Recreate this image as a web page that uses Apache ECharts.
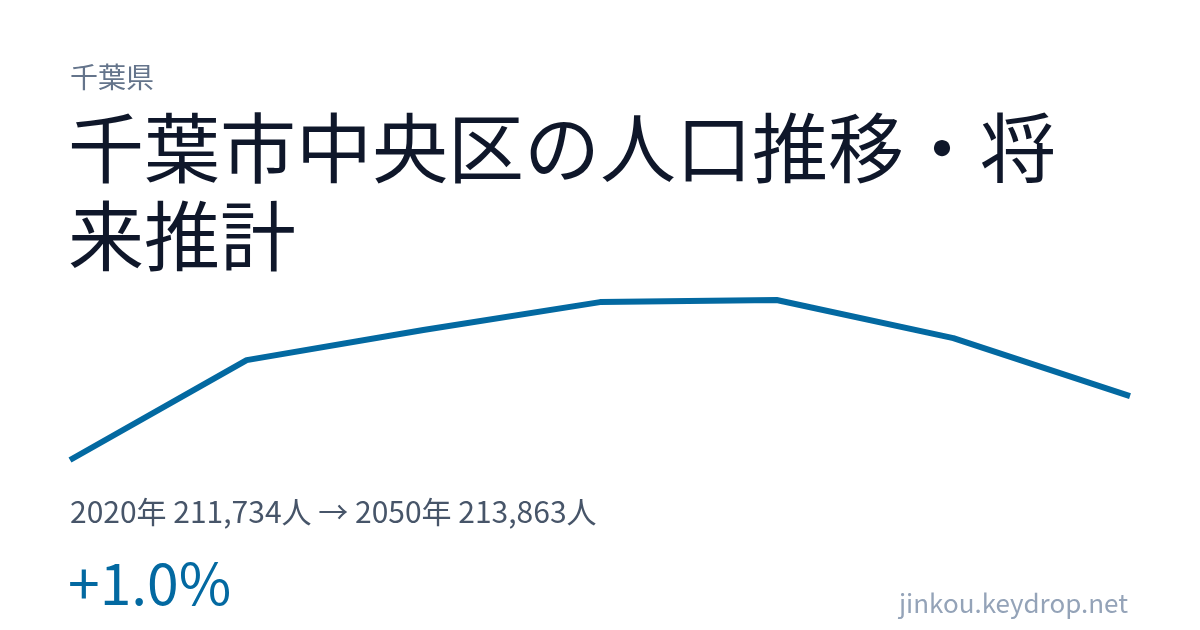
<!DOCTYPE html>
<html>
<head>
<meta charset="utf-8">
<script src="https://cdn.jsdelivr.net/npm/echarts@6/dist/echarts.min.js"></script>
<style>
html, body { margin: 0; padding: 0; background: #fff; }
#main { width: 1200px; height: 630px; }
</style>
</head>
<body>
<div id="main"></div>
<script>
// 年次と人口（2020年〜2050年）
var years = ['2020', '2025', '2030', '2035', '2040', '2045', '2050'];
var population = [211734, 215060, 216060, 216990, 217060, 215790, 213863];

var font = '"Noto Sans CJK JP", "Noto Sans", sans-serif';
var first = population[0];
var last = population[population.length - 1];
var rate = (last - first) / first * 100;

function fmt(n) {
    return n.toLocaleString('en-US');
}

var myChart = echarts.init(document.getElementById('main'));
var option = {
    backgroundColor: '#ffffff',
    animation: false,
    grid: { left: 70, right: 70, top: 300, bottom: 170 },
    xAxis: {
        type: 'category',
        boundaryGap: false,
        data: years,
        show: false
    },
    yAxis: {
        type: 'value',
        min: 'dataMin',
        max: 'dataMax',
        show: false
    },
    series: [
        {
            name: '人口',
            type: 'line',
            data: population,
            symbol: 'none',
            lineStyle: { color: '#0369a1', width: 6 }
        }
    ],
    graphic: [
        { type: 'text', left: 70, top: 63,
          style: { text: '千葉県', font: '28px ' + font, fill: '#64748b' } },
        { type: 'text', left: 68, top: 104,
          style: { text: '千葉市中央区の人口推移・将\n来推計', font: '76px ' + font, lineHeight: 88, fill: '#0f172a' } },
        { type: 'text', left: 70, top: 497,
          style: { text: years[0] + '年 ' + fmt(first) + '人 → ' + years[years.length - 1] + '年 ' + fmt(last) + '人',
                   font: '30px ' + font, fill: '#475569' } },
        { type: 'text', left: 68, top: 555,
          style: { text: (rate >= 0 ? '+' : '') + rate.toFixed(1) + '%', font: '57px ' + font, fill: '#0369a1' } },
        { type: 'text', right: 72, top: 590,
          style: { text: 'jinkou.keydrop.net', font: '26px ' + font, fill: '#94a3b8' } }
    ]
};
myChart.setOption(option, true);
</script>
</body>
</html>
